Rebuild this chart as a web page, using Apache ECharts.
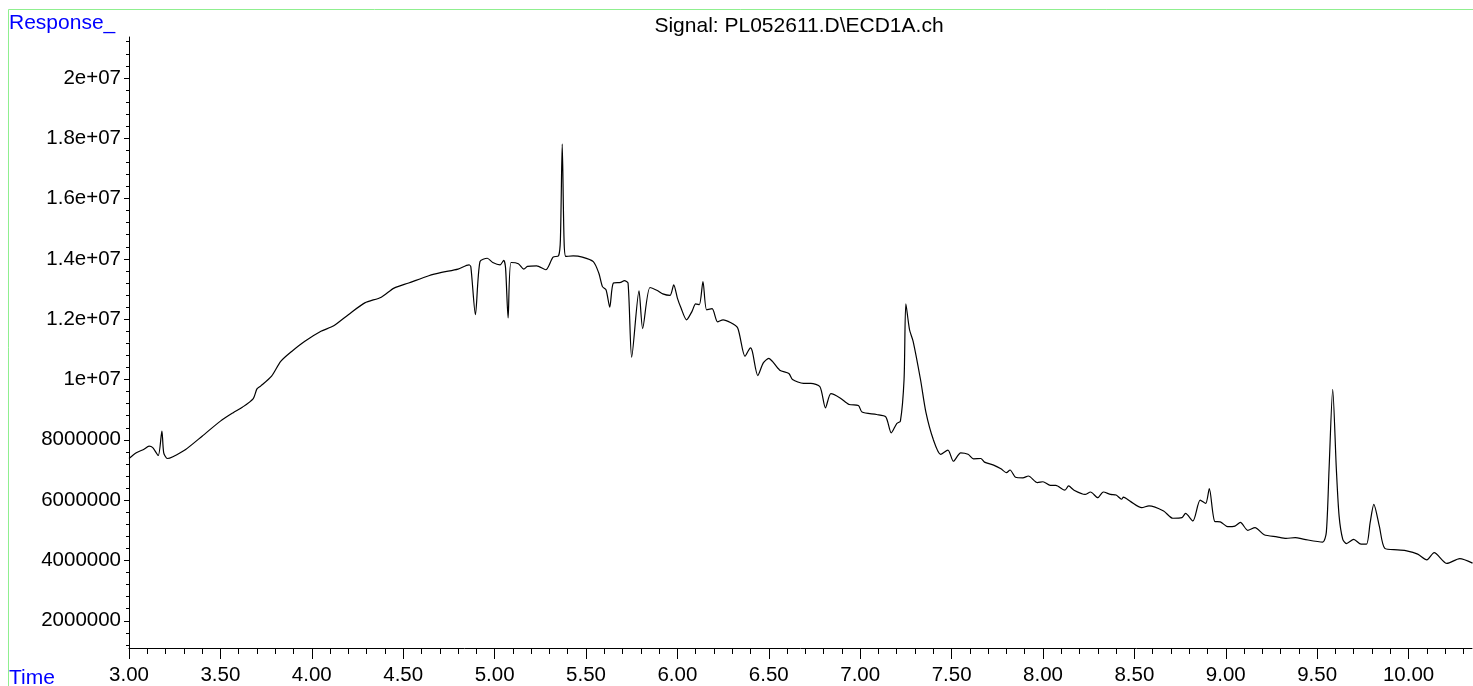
<!DOCTYPE html>
<html>
<head>
<meta charset="utf-8">
<script src="https://cdn.jsdelivr.net/npm/echarts@6/dist/echarts.min.js"></script>
<style>
  html, body { margin: 0; padding: 0; background: #fff; }
  #chart { width: 1473px; height: 686px; }
</style>
</head>
<body>
<div id="chart"></div>
<script>
// Retention time (min)
const times = [
  3.00,3.04,3.08,3.11,3.13,3.16,3.18,3.19,3.21,3.24,
  3.31,3.40,3.50,3.57,3.62,3.68,3.70,3.72,3.78,3.83,
  3.89,3.96,4.05,4.12,4.20,4.29,4.38,4.45,4.53,4.64,
  4.71,4.80,4.86,4.87,4.895,4.92,4.96,4.99,5.03,5.05,
  5.06,5.074,5.09,5.13,5.16,5.18,5.23,5.28,5.32,5.35,
  5.36,5.37,5.38,5.39,5.43,5.48,5.54,5.57,5.59,5.61,
  5.63,5.65,5.69,5.71,5.73,5.75,5.79,5.81,5.85,5.89,
  5.92,5.96,5.98,6.00,6.02,6.05,6.08,6.10,6.12,6.14,
  6.16,6.19,6.22,6.25,6.29,6.33,6.37,6.40,6.41,6.44,
  6.47,6.50,6.52,6.56,6.61,6.63,6.69,6.73,6.78,6.81,
  6.84,6.89,6.94,6.99,7.01,7.09,7.14,7.17,7.20,7.22,
  7.24,7.25,7.27,7.29,7.33,7.36,7.40,7.44,7.48,7.51,
  7.55,7.59,7.62,7.66,7.68,7.73,7.77,7.80,7.82,7.85,
  7.89,7.92,7.97,8.00,8.04,8.07,8.12,8.14,8.17,8.23,
  8.26,8.30,8.33,8.37,8.40,8.43,8.44,8.48,8.54,8.58,
  8.66,8.71,8.76,8.78,8.82,8.86,8.89,8.91,8.94,8.97,
  9.01,9.05,9.08,9.12,9.16,9.21,9.28,9.33,9.38,9.43,
  9.53,9.55,9.565,9.585,9.605,9.62,9.64,9.66,9.70,9.74,
  9.77,9.79,9.81,9.84,9.87,9.94,9.99,10.05,10.10,10.14,
  10.21,10.28,10.35
];
// Response (millions)
const responseMillions = [
  7.38,7.57,7.68,7.79,7.74,7.48,8.29,7.57,7.38,7.44,
  7.68,8.12,8.62,8.90,9.08,9.37,9.69,9.78,10.11,10.60,
  10.93,11.26,11.60,11.78,12.15,12.54,12.73,13.03,13.20,13.44,
  13.55,13.66,13.80,13.74,12.15,13.91,14.02,13.88,13.80,13.95,
  13.70,12.04,13.88,13.84,13.66,13.75,13.77,13.64,14.06,14.10,
  14.63,17.81,14.63,14.08,14.10,14.06,13.91,13.53,13.08,12.97,
  12.40,13.20,13.22,13.28,13.20,10.74,12.94,11.69,13.05,12.95,
  12.84,12.79,13.14,12.70,12.37,11.98,12.26,12.51,12.48,13.25,
  12.31,12.35,11.91,11.98,11.89,11.71,10.77,11.05,10.93,10.13,
  10.55,10.70,10.60,10.31,10.20,10.00,9.87,9.87,9.76,9.06,
  9.53,9.39,9.17,9.14,8.92,8.84,8.76,8.23,8.54,8.62,
  10.00,12.51,11.65,11.26,10.00,8.90,8.01,7.52,7.66,7.29,
  7.57,7.52,7.37,7.38,7.26,7.16,7.04,6.91,7.00,6.76,
  6.74,6.80,6.58,6.61,6.49,6.49,6.33,6.47,6.33,6.19,
  6.27,6.08,6.27,6.19,6.17,6.03,6.10,5.95,5.75,5.81,
  5.64,5.40,5.42,5.56,5.31,6.00,5.89,6.38,5.29,5.28,
  5.12,5.14,5.26,5.00,5.09,4.85,4.78,4.73,4.76,4.70,
  4.61,4.93,7.02,9.67,7.02,5.47,4.70,4.56,4.70,4.54,
  4.54,5.26,5.86,5.14,4.40,4.35,4.32,4.21,4.02,4.26,
  3.90,4.06,3.91
];

const xTickValues = [3.0,3.5,4.0,4.5,5.0,5.5,6.0,6.5,7.0,7.5,8.0,8.5,9.0,9.5,10.0];
const xTickLabels = ['3.00','3.50','4.00','4.50','5.00','5.50','6.00','6.50','7.00','7.50','8.00','8.50','9.00','9.50','10.00'];
const yTickValues = [2e6,4e6,6e6,8e6,1e7,1.2e7,1.4e7,1.6e7,1.8e7,2e7];
const yTickLabels = ['2000000','4000000','6000000','8000000','1e+07','1.2e+07','1.4e+07','1.6e+07','1.8e+07','2e+07'];

const xMin = 3.0, xMax = 10.347;
const yMin = 1.097e6, yMax = 2.1357e7;

const xMinor = [];
for (let i = 30; i <= 103; i++) { if (i % 5 !== 0) xMinor.push(i / 10); }
const yMinor = [];
for (let i = 3; i <= 53; i++) { if (i % 5 !== 0) yMinor.push(i * 4e5); }

const seriesData = times.map((t, i) => [t, responseMillions[i] * 1e6]);

const FONT = 'Liberation Sans, Arial, sans-serif';
const chart = echarts.init(document.getElementById('chart'), null, { renderer: 'canvas' });

const baseX = {
  type: 'value', min: xMin, max: xMax, position: 'bottom',
  splitLine: { show: false }, minorTick: { show: false }
};
const baseY = {
  type: 'value', min: yMin, max: yMax, position: 'left',
  splitLine: { show: false }, minorTick: { show: false }
};

chart.setOption({
  animation: false,
  backgroundColor: '#fff',
  grid: { left: 129, right: 1, top: 37, bottom: 37, containLabel: false },
  xAxis: [
    Object.assign({}, baseX, {
      axisLine: { show: true, onZero: false, lineStyle: { color: '#000', width: 1 } },
      axisTick: { show: true, inside: false, length: 11, customValues: xTickValues, lineStyle: { color: '#000' } },
      axisLabel: {
        show: true, customValues: xTickValues, margin: 17,
        color: '#000', fontFamily: FONT, fontSize: 20.5,
        formatter: v => { const k = xTickValues.findIndex(x => Math.abs(x - v) < 1e-6); return k >= 0 ? xTickLabels[k] : ''; }
      }
    }),
    Object.assign({}, baseX, {
      axisLine: { show: false, onZero: false },
      axisTick: { show: true, inside: false, length: 6, customValues: xMinor, lineStyle: { color: '#000' } },
      axisLabel: { show: false }
    })
  ],
  yAxis: [
    Object.assign({}, baseY, {
      axisLine: { show: true, onZero: false, lineStyle: { color: '#000', width: 1 } },
      axisTick: { show: true, inside: false, length: 5, customValues: yTickValues, lineStyle: { color: '#000' } },
      axisLabel: {
        show: true, customValues: yTickValues, margin: 8,
        color: '#000', fontFamily: FONT, fontSize: 20.5,
        formatter: v => { const k = yTickValues.findIndex(y => Math.abs(y - v) < 1); return k >= 0 ? yTickLabels[k] : ''; }
      }
    }),
    Object.assign({}, baseY, {
      axisLine: { show: false, onZero: false },
      axisTick: { show: true, inside: false, length: 3, customValues: yMinor, lineStyle: { color: '#000' } },
      axisLabel: { show: false }
    })
  ],
  series: [{
    type: 'line',
    xAxisIndex: 0, yAxisIndex: 0,
    data: seriesData,
    showSymbol: false,
    smooth: 0.25,
    lineStyle: { color: '#000', width: 1.2 },
    silent: true
  }],
  graphic: [
    { type: 'line', silent: true, shape: { x1: 8.5, y1: 9.5, x2: 1473, y2: 9.5 }, style: { stroke: '#8fef8f', lineWidth: 1 } },
    { type: 'line', silent: true, shape: { x1: 8.5, y1: 9.5, x2: 8.5, y2: 686 }, style: { stroke: '#8fef8f', lineWidth: 1 } },
    { type: 'text', silent: true, left: 9, top: 13, style: { text: 'Response_', fill: '#0000ff', font: '21px ' + FONT } },
    { type: 'text', silent: true, left: 9, top: 668, style: { text: 'Time', fill: '#0000ff', font: '21px ' + FONT } },
    { type: 'text', silent: true, x: 799, y: 26, style: { text: 'Signal: PL052611.D\\ECD1A.ch', fill: '#000', font: '21px ' + FONT, textAlign: 'center', textVerticalAlign: 'middle' } }
  ]
});
</script>
</body>
</html>
